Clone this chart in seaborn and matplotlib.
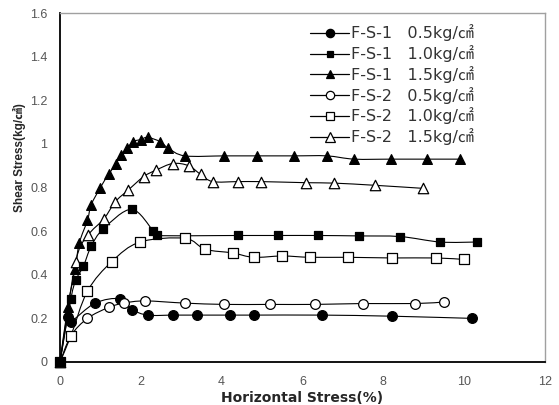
import numpy as np
import pandas as pd
import matplotlib
matplotlib.use("Agg")
import matplotlib.pyplot as plt
import seaborn as sns
from matplotlib.path import Path
from matplotlib.patches import PathPatch
from matplotlib.lines import Line2D

# ---- data ----
fs1_05_x = [0, 0.19, 0.27, 0.87, 1.49, 1.79, 2.17, 2.8, 3.38, 4.21, 4.79, 6.48, 8.21, 10.19]
fs1_05_y = [0, 0.205, 0.185, 0.27, 0.29, 0.24, 0.215, 0.215, 0.215, 0.215, 0.215, 0.215, 0.21, 0.20]

fs1_10_x = [0, 0.27, 0.39, 0.58, 0.77, 1.07, 1.77, 2.31, 2.39, 4.41, 5.39, 6.39, 7.40, 8.42, 9.41, 10.31]
fs1_10_y = [0, 0.29, 0.375, 0.44, 0.53, 0.61, 0.70, 0.60, 0.58, 0.58, 0.58, 0.58, 0.578, 0.575, 0.55, 0.55]

fs1_15_x = [0, 0.19, 0.37, 0.48, 0.68, 0.77, 1.0, 1.2, 1.39, 1.5, 1.67, 1.8, 2.0, 2.17, 2.48, 2.68,
            3.09, 4.07, 4.88, 5.80, 6.6, 7.28, 8.19, 9.08, 9.9]
fs1_15_y = [0, 0.25, 0.425, 0.547, 0.65, 0.72, 0.80, 0.86, 0.91, 0.95, 0.98, 1.01, 1.02, 1.03, 1.01, 0.98,
            0.945, 0.945, 0.945, 0.945, 0.945, 0.93, 0.93, 0.93, 0.93]

fs2_05_x = [0, 0.27, 0.68, 1.2, 1.58, 2.1, 3.09, 4.07, 5.2, 6.31, 7.49, 8.79, 9.5]
fs2_05_y = [0, 0.12, 0.20, 0.25, 0.27, 0.28, 0.27, 0.264, 0.264, 0.264, 0.268, 0.268, 0.275]

fs2_10_x = [0, 0.27, 0.68, 1.28, 1.98, 3.09, 3.59, 4.27, 4.79, 5.5, 6.19, 7.12, 8.21, 9.3, 10.0]
fs2_10_y = [0, 0.12, 0.325, 0.46, 0.55, 0.567, 0.517, 0.50, 0.48, 0.486, 0.48, 0.48, 0.477, 0.477, 0.47]

fs2_15_x = [0, 0.39, 0.69, 1.08, 1.37, 1.68, 2.07, 2.38, 2.79, 3.18, 3.48, 3.78, 4.4, 4.98, 6.09, 6.79, 7.8, 8.99]
fs2_15_y = [0, 0.46, 0.58, 0.655, 0.735, 0.787, 0.85, 0.88, 0.91, 0.90, 0.86, 0.827, 0.827, 0.827, 0.822, 0.82, 0.81, 0.796]

labels = ["F-S-1   0.5kg/㎠", "F-S-1   1.0kg/㎠", "F-S-1   1.5kg/㎠",
          "F-S-2   0.5kg/㎠", "F-S-2   1.0kg/㎠", "F-S-2   1.5kg/㎠"]
xticks = [0, 2, 4, 6, 8, 10, 12]
yticks = [0, 0.2, 0.4, 0.6, 0.8, 1.0, 1.2, 1.4, 1.6]
ytick_labels = ["0", "0.2", "0.4", "0.6", "0.8", "1", "1.2", "1.4", "1.6"]

# (x, y, marker, facecolor, size, zorder)
series = [
    (fs1_05_x, fs1_05_y, "o", "black", 7.0, 3),
    (fs1_10_x, fs1_10_y, "s", "black", 6.0, 4),
    (fs1_15_x, fs1_15_y, "^", "black", 7.0, 3),
    (fs2_05_x, fs2_05_y, "o", "white", 7.0, 3),
    (fs2_10_x, fs2_10_y, "s", "white", 6.8, 3),
    (fs2_15_x, fs2_15_y, "^", "white", 7.5, 3),
]

sns.set_style("white")
plt.rcParams['font.family'] = ['Liberation Sans', 'Noto Sans CJK KR', 'DejaVu Sans']

fig = plt.figure(figsize=(5.59, 4.05), dpi=100)
ax = fig.add_axes([60/559, 1-362/405, (545-60)/559, (362-13)/405])


def smooth_path(xs, ys, t=0.5):
    xs = np.asarray(xs, float); ys = np.asarray(ys, float)
    pts = np.column_stack([xs, ys])
    n = len(pts)
    verts = [pts[0]]; codes = [Path.MOVETO]
    for i in range(n - 1):
        p0 = pts[i - 1] if i > 0 else pts[i]
        p1 = pts[i]; p2 = pts[i + 1]
        p3 = pts[i + 2] if i + 2 < n else pts[i + 1]
        c1 = p1 + (p2 - p0) * t / 3
        c2 = p2 - (p3 - p1) * t / 3
        verts += [c1, c2, p2]; codes += [Path.CURVE4] * 3
    return Path(verts, codes)


handles = []
for (xs, ys, m, fc, ms, z), lab in zip(series, labels):
    ax.add_patch(PathPatch(smooth_path(xs, ys), fill=False, ec="black", lw=0.8, zorder=2))
    df = pd.DataFrame({"x": xs, "y": ys})
    sns.scatterplot(data=df, x="x", y="y", ax=ax, marker=m, s=ms**2, color=fc,
                    edgecolor="black", linewidth=0.9, zorder=z, legend=False, clip_on=False)
    handles.append(Line2D([], [], color="black", lw=0.9, marker=m, markersize=ms - 1,
                          markerfacecolor=fc, markeredgecolor="black", markeredgewidth=0.9))

ax.set_xlim(0, 12)
ax.set_ylim(0, 1.6)
ax.set_xticks(xticks)
ax.set_xticklabels([str(v) for v in xticks])
ax.set_yticks(yticks)
ax.set_yticklabels(ytick_labels)
ax.set_xticks(np.arange(0, 12.01, 0.5), minor=True)
ax.set_yticks(np.arange(0, 1.601, 0.04), minor=True)
ax.tick_params(axis="both", which="both", direction="in", color="black", width=1.0)
ax.tick_params(axis="both", which="major", length=5, labelsize=9, labelcolor="#555555")
ax.tick_params(axis="x", which="major", pad=10)
ax.tick_params(axis="y", which="major", pad=9)
ax.tick_params(axis="both", which="minor", length=3)
ax.tick_params(axis="y", which="both", right=False)
ax.tick_params(axis="x", which="both", top=False)

for s in ["left", "bottom"]:
    ax.spines[s].set_color("black"); ax.spines[s].set_linewidth(1.3)
for s in ["top", "right"]:
    ax.spines[s].set_color("#a0a0a0"); ax.spines[s].set_linewidth(1.0)

ax.set_xlabel("Horizontal Stress(%)", fontsize=10, fontweight="bold", labelpad=2,
              family=['DejaVu Sans'])
ax.set_ylabel("Shear Stress(kg/㎠)", fontsize=8.5, fontweight="bold")
ax.yaxis.set_label_coords(-0.07, 0.585)

leg = ax.legend(handles, labels, loc="upper left", bbox_to_anchor=(0.50, 0.99), frameon=False,
                handlelength=2.4, handletextpad=0.15, labelspacing=0.24, borderpad=0,
                prop={"family": ['DejaVu Sans', 'Noto Sans CJK KR'], "size": 11.5})
for t in leg.get_texts():
    t.set_color("#333333")

fig.savefig("out.png", dpi=100)
